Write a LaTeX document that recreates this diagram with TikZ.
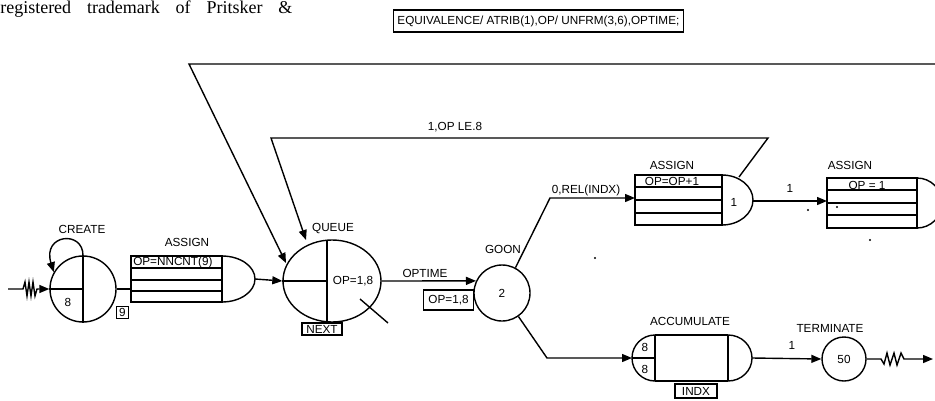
\documentclass[tikz,border=0pt]{standalone}
\usepackage{fontspec}
\setmainfont{Liberation Sans}
\newfontfamily\serifrm{Liberation Serif}
\usetikzlibrary{arrows.meta,shapes.geometric}
\begin{document}
\begin{tikzpicture}[x=0.75pt,y=-0.75pt,
  ln/.style={line width=1.05pt},
  arr/.style={line width=1.05pt,-{Triangle[length=7.5pt,width=6pt]}},
  lbl/.style={inner sep=0pt,font=\fontsize{8.8}{10}\selectfont},
  tag/.style={draw,line width=0.9pt,inner sep=0.5pt,font=\fontsize{8.8}{10}\selectfont},
  dotm/.style={fill=black,circle,inner sep=0pt,minimum size=1.6pt},
]
\useasboundingbox (0,0) rectangle (935,400);

% header text
\node[anchor=base west,inner sep=0pt,font=\serifrm\fontsize{13.5}{15}\selectfont] (tm) at (0,13)
  {\hbox to 219pt{registered\hfill trademark\hfill of\hfill Pritsker\hfill\&}};
\node[draw,line width=1pt,inner xsep=3pt,inner ysep=0pt,minimum height=16.5pt,anchor=east,
  font=\fontsize{8.8}{10}\selectfont] (eq) at (684,21) {EQUIVALENCE/ ATRIB(1),OP/ UNFRM(3,6),OPTIME;};

% CREATE
\node[circle,draw,ln,minimum size=49.5pt,inner sep=0pt] (create) at (83,289) {};
\draw[ln] (create.north) -- (create.south);
\draw[ln] (create.west) -- (create.center);
\node[lbl] (c8) at (68,302) {8};
\node[lbl] (cl) at (82,229) {CREATE};
\draw[arr] (create.north) .. controls (83,230) and (42,234) .. (create.150);
\coordinate (in0) at (8,289);
\draw[arr] (in0) -- (23,289) -- (25,282) -- (27,296) -- (29,282) -- (31,296) -- (33,282) -- (35,296) -- (37,289) -- (create.west);
\node[tag,minimum width=8.5pt,minimum height=8.5pt] (nine) at (122.5,312.5) {9};

% ASSIGN 0
\draw[ln] (131,256) rectangle (222,302);
\draw[ln] (222,256) arc[start angle=-90,end angle=90,x radius=33,y radius=23];
\draw[ln] (131,268) -- (222,268) (131,280) -- (222,280) (131,291) -- (222,291);
\node[lbl,anchor=west] (a0t) at (133,262) {OP=NNCNT(9)};
\node[lbl] (a0l) at (187,242) {ASSIGN};
\coordinate (a0in) at (131,289);
\coordinate (a0out) at (255,279);
\draw[ln] (create.east) -- (a0in);

% QUEUE
\node[ellipse,draw,ln,minimum width=73.5pt,minimum height=61.5pt,inner sep=0pt] (queue) at (332,281) {};
\coordinate (qv1) at (327,240.2);
\coordinate (qv2) at (327,321.8);
\coordinate (qc) at (327,281);
\draw[ln] (qv1) -- (qv2);
\draw[ln] (queue.west) -- (qc);
\node[lbl] (qtxt) at (353,281) {OP=1,8};
\node[lbl] (ql) at (333,229) {QUEUE};
\node[tag,minimum width=30pt,minimum height=9pt] (next) at (322,329) {NEXT};
\coordinate (d1) at (360,299);
\coordinate (d2) at (388,323);
\draw[ln] (d1) -- (d2);
\draw[arr] (a0out) -- (queue.west);

% GOON
\node[circle,draw,ln,minimum size=42pt,inner sep=0pt,font=\fontsize{8.8}{10}\selectfont] (goon) at (502,293) {2};
\node[lbl] (gl) at (503,249) {GOON};
\draw[arr] (queue.east) -- (goon.155);
\node[lbl] (optl) at (425,273) {OPTIME};
\node[tag,minimum width=38pt,minimum height=15pt] (opt) at (448.5,300) {OP=1,8};

% upper branch
\coordinate (ub) at (550,198);
\coordinate (a1in) at (635,198);
\draw[arr] (goon.62) -- (ub) -- (a1in);
\node[lbl] (rel) at (586,190) {0,REL(INDX)};

% ASSIGN 1
\draw[ln] (635,175) rectangle (722,225);
\draw[ln] (722,175) arc[start angle=-90,end angle=90,x radius=31,y radius=25];
\draw[ln] (635,187) -- (722,187) (635,200) -- (722,200) (635,213) -- (722,213);
\node[lbl] (a1t) at (672,181) {OP=OP+1};
\node[lbl] (a1n) at (734,202) {1};
\node[lbl] (a1l) at (672,165) {ASSIGN};
\coordinate (a1out) at (753,201);
\coordinate (a1top) at (739,177);

% ASSIGN 2
\coordinate (a2in) at (827,201);
\draw[arr] (a1out) -- (a2in);
\node[lbl] (one1) at (790,188) {1};
\draw[ln] (827,178) rectangle (917,228);
\draw[ln] (917,178) arc[start angle=-90,end angle=90,x radius=25,y radius=25];
\draw[ln] (827,190) -- (917,190) (827,203) -- (917,203) (827,215) -- (917,215);
\node[lbl] (a2t) at (867,185) {OP = 1};
\node[lbl] (a2l) at (850,165) {ASSIGN};

% inner loop
\coordinate (il1) at (768,138);
\coordinate (il2) at (271,138);
\coordinate (il3) at (306,240);
\draw[arr] (a1top) -- (il1) -- (il2) -- (il3);
\node[lbl] (ople) at (455,127) {1,OP LE.8};

% big loop
\coordinate (bl0) at (935,64);
\coordinate (bl1) at (189,64);
\coordinate (bl2) at (286,263);
\draw[arr] (bl0) -- (bl1) -- (bl2);

% lower branch & ACCUMULATE
\coordinate (lb) at (547,358);
\coordinate (accL) at (632,358);
\draw[arr] (goon.-55) -- (lb) -- (accL);
\draw[ln] (655,335) arc[start angle=-90,end angle=-270,radius=23];
\draw[ln] (655,335) -- (655,381);
\draw[ln] (632,358) -- (655,358);
\draw[ln] (655,335) -- (728,335) (655,381) -- (728,381) (728,335) -- (728,381);
\draw[ln] (728,335) arc[start angle=-90,end angle=90,x radius=24,y radius=23];
\node[lbl] (ac8a) at (645,347) {8};
\node[lbl] (ac8b) at (645,369) {8};
\node[lbl] (acl) at (690,321) {ACCUMULATE};
\node[tag,minimum width=31.5pt,minimum height=10.5pt] (indx) at (696,391) {INDX};
\coordinate (accR) at (752,358);

% TERMINATE
\node[circle,draw,ln,minimum size=33pt,inner sep=0pt,font=\fontsize{8.8}{10}\selectfont] (term) at (844,359) {50};
\node[lbl] (tl) at (830,328) {TERMINATE};
\draw[arr] (accR) -- (term.west);
\node[lbl] (one2) at (792,345) {1};
\coordinate (out) at (933,359);
\draw[arr] (term.east) -- (881,359) -- (884,364) -- (887,353) -- (890,365) -- (894,353) -- (897,365) -- (901,353) -- (904,359) -- (out);

% stray dots
\node[dotm] (s1) at (595,258) {};
\node[dotm] (s2) at (808,210) {};
\node[dotm] (s3) at (837,207) {};
\node[dotm] (s4) at (870,240) {};
\end{tikzpicture}
\end{document}
